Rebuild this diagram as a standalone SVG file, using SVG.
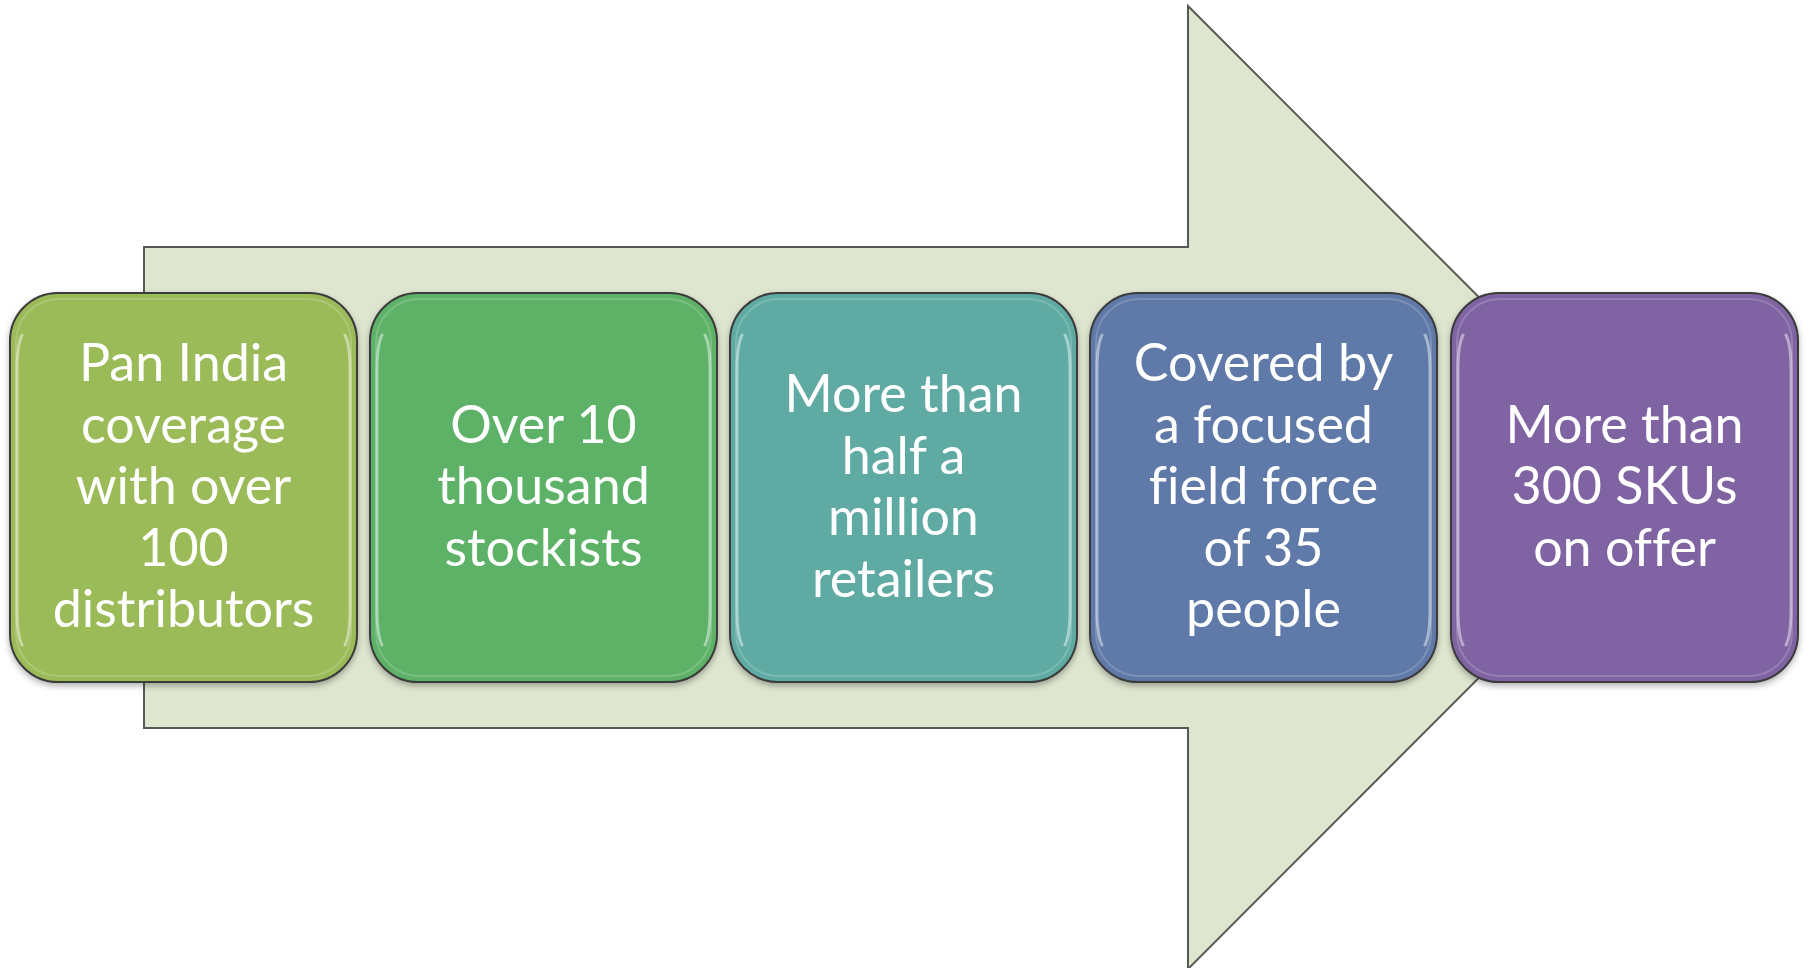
<svg xmlns="http://www.w3.org/2000/svg" width="1810" height="968" viewBox="0 0 1810 968">
  <style>
    .box { stroke: #3a3a3a; stroke-width: 2; }
    .gloss { fill: none; stroke: #ffffff; stroke-opacity: 0.18; stroke-width: 2; }
    .side { fill: none; stroke: #ffffff; stroke-opacity: 0.45; stroke-width: 3; stroke-linecap: round; }
    .lbl { font-family: Lato, "Liberation Sans", sans-serif; font-size: 52px; fill: #ffffff; text-anchor: middle; font-variant-ligatures: none; }
  </style>
  <defs>
    <filter id="sh" x="-10%" y="-10%" width="120%" height="125%">
      <feDropShadow dx="0" dy="3" stdDeviation="3" flood-color="#000" flood-opacity="0.3"/>
    </filter>
  </defs>
  <rect width="1810" height="968" fill="#ffffff"/>
  <g id="connectors">
    <polygon id="arrow" points="144,247 1188,247 1188,6 1669,487.5 1188,969 1188,728 144,728" fill="#dfe6d0" stroke="#555a55" stroke-width="2"/>
  </g>
  <g id="node1">
    <rect class="box" x="10" y="293" width="347" height="389" rx="48" fill="#9bbb59" filter="url(#sh)"/>
    <rect class="gloss" x="16" y="299" width="335" height="377" rx="43"/>
    <path class="side" d="M22,335 Q17,345 17,370 V610 Q17,635 22,645 M345,335 Q350,345 350,370 V610 Q350,635 345,645"/>
    <text class="lbl" x="183.5"><tspan x="183.5" y="381">Pan India</tspan><tspan x="183.5" y="442.5">coverage</tspan><tspan x="183.5" y="504">with over</tspan><tspan x="183.5" y="565.5">100</tspan><tspan x="183.5" y="627">distributors</tspan></text>
  </g>
  <g id="node2">
    <rect class="box" x="370" y="293" width="347" height="389" rx="48" fill="#5db267" filter="url(#sh)"/>
    <rect class="gloss" x="376" y="299" width="335" height="377" rx="43"/>
    <path class="side" d="M382,335 Q377,345 377,370 V610 Q377,635 382,645 M705,335 Q710,345 710,370 V610 Q710,635 705,645"/>
    <text class="lbl" x="543.5"><tspan x="543.5" y="442.5">Over 10</tspan><tspan x="543.5" y="504">thousand</tspan><tspan x="543.5" y="565.5">stockists</tspan></text>
  </g>
  <g id="node3">
    <rect class="box" x="730" y="293" width="347" height="389" rx="48" fill="#5eaba4" filter="url(#sh)"/>
    <rect class="gloss" x="736" y="299" width="335" height="377" rx="43"/>
    <path class="side" d="M742,335 Q737,345 737,370 V610 Q737,635 742,645 M1065,335 Q1070,345 1070,370 V610 Q1070,635 1065,645"/>
    <text class="lbl" x="903.5"><tspan x="903.5" y="412">More than</tspan><tspan x="903.5" y="473.5">half a</tspan><tspan x="903.5" y="535">million</tspan><tspan x="903.5" y="596.5">retailers</tspan></text>
  </g>
  <g id="node4">
    <rect class="box" x="1090" y="293" width="347" height="389" rx="48" fill="#5f79a8" filter="url(#sh)"/>
    <rect class="gloss" x="1096" y="299" width="335" height="377" rx="43"/>
    <path class="side" d="M1102,335 Q1097,345 1097,370 V610 Q1097,635 1102,645 M1425,335 Q1430,345 1430,370 V610 Q1430,635 1425,645"/>
    <text class="lbl" x="1263.5"><tspan x="1263.5" y="381">Covered by</tspan><tspan x="1263.5" y="442.5">a focused</tspan><tspan x="1263.5" y="504">field force</tspan><tspan x="1263.5" y="565.5">of 35</tspan><tspan x="1263.5" y="627">people</tspan></text>
  </g>
  <g id="node5">
    <rect class="box" x="1451" y="293" width="347" height="389" rx="48" fill="#8064a2" filter="url(#sh)"/>
    <rect class="gloss" x="1457" y="299" width="335" height="377" rx="43"/>
    <path class="side" d="M1463,335 Q1458,345 1458,370 V610 Q1458,635 1463,645 M1786,335 Q1791,345 1791,370 V610 Q1791,635 1786,645"/>
    <text class="lbl" x="1624.5"><tspan x="1624.5" y="442.5">More than</tspan><tspan x="1624.5" y="504">300 SKUs</tspan><tspan x="1624.5" y="565.5">on offer</tspan></text>
  </g>
</svg>
